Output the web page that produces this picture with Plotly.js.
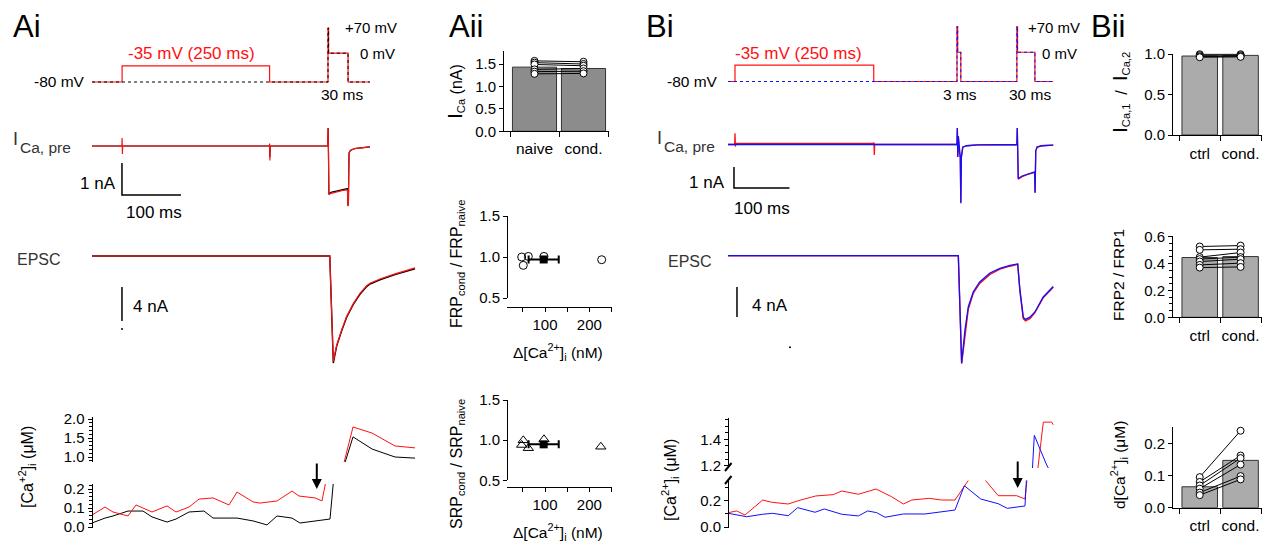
<!DOCTYPE html>
<html>
<head>
<meta charset="utf-8">
<script src="https://cdn.plot.ly/plotly-3.0.1.min.js"></script>
<style>html,body{margin:0;padding:0;background:#fff;overflow:hidden}</style>
</head>
<body>
<div id="fig" style="width:1269px;height:542px"></div>
<script>
// ================= DATA =================
// Ai – voltage protocol (time ms, mV)
const aiVt     = [0, 51, 51, 301, 301, 400, 400, 401, 401, 434, 434, 471];
const aiVcond  = [-80, -80, -35, -35, -80, -80, 70, 70, 0, 0, -80, -80];
const aiVnaive = [-80, -80, -80, -80, -80, -80, 70, 70, 0, 0, -80, -80];
// Ai – presynaptic Ca current (ms, nA)
const aiIt     = [0, 50.6, 51, 51.5, 52, 300.6, 301, 301.5, 302, 399.6, 400.2, 400.8, 401.5, 405, 415, 425, 433, 433.8, 434.6, 435.6, 438, 445, 458, 471];
const aiIcond  = [0, 0, 0.25, -0.25, 0, 0, 0.08, -0.45, 0, 0, 0.56, -0.2, -1.52, -1.48, -1.43, -1.39, -1.37, -1.88, -1.8, -0.22, -0.14, -0.08, -0.05, -0.03];
const aiInaive = [0, 0, 0, 0, 0, 0, 0.03, -0.35, 0, 0, 0.56, -0.2, -1.50, -1.45, -1.40, -1.35, -1.33, -1.86, -1.78, -0.22, -0.14, -0.08, -0.05, -0.03];
// Ai – EPSC (ms, nA)
const aiEt     = [0, 403, 409, 414.7, 423.2, 431.7, 442.9, 454.2, 465.6, 471.2, 488, 513.6, 547.5];
const aiEcond  = [0, 0, -12.4, -10.5, -8.7, -7.1, -5.6, -4.4, -3.5, -3.2, -2.7, -2.1, -1.4];
const aiEnaive = [0, 0, -12.6, -10.6, -8.8, -7.2, -5.7, -4.5, -3.6, -3.3, -2.8, -2.2, -1.5];
// Ai – [Ca2+]i (ms, µM)
const aiCaCondT  = [0, 22.0, 35.6, 61.0, 74.6, 101.7, 127.1, 142.4, 164.4, 181.4, 205.1, 232.2, 245.8, 272.9, 284.7, 313.6, 339.0, 350.8, 378.0, 389.8, 398.3, 427.1, 442.4, 474.6, 513.6, 547.5];
const aiCaCond   = [0.063, 0.105, 0.079, 0.058, 0.116, 0.079, 0.111, 0.079, 0.105, 0.147, 0.153, 0.116, 0.184, 0.132, 0.126, 0.137, 0.189, 0.163, 0.153, 0.137, 0.27, 0.85, 1.79, 1.63, 1.29, 1.24];
const aiCaNaiveT = [0, 22.0, 35.6, 61.0, 86.4, 101.7, 127.1, 142.4, 164.4, 189.8, 205.1, 245.8, 272.9, 296.6, 313.6, 339.0, 352.5, 378.0, 403.4, 411.9, 428.8, 442.4, 474.6, 513.6, 547.5];
const aiCaNaive  = [0.021, 0.047, 0.058, 0.084, 0.084, 0.053, 0.026, 0.042, 0.079, 0.084, 0.047, 0.047, 0.032, 0.011, 0.058, 0.047, 0.021, 0.032, 0.042, 0.33, 0.85, 1.53, 1.21, 1.0, 0.97];
const aiArrowT = 381;

// Aii – I_Ca bars (nA)
const aiiCats   = ['naive', 'cond.'];
const aiiBar    = [1.43, 1.40];
const aiiNaive  = [1.57, 1.53, 1.49, 1.38, 1.33, 1.28];
const aiiCond   = [1.55, 1.50, 1.46, 1.40, 1.34, 1.29];
// Aii – FRP / SRP ratios vs Δ[Ca2+]i (nM)
const frpCa    = [47.4, 62.4, 51, 97.7, 228];
const frpRatio = [1.00, 1.007, 0.898, 1.007, 0.967];
const frpMean  = {ca: 97, ratio: 0.97, sem: 34};
const srpCa    = [51, 47.4, 62.4, 97.7, 226];
const srpRatio = [0.998, 0.94, 0.90, 1.01, 0.918];
const srpMean  = {ca: 97, ratio: 0.948, sem: 34};

// Bi – voltage protocol
const biVt     = [0, 12.6, 12.6, 262.6, 262.6, 412.6, 412.6, 413.8, 413.8, 419.5, 419.5, 520.5, 520.5, 521.7, 521.7, 553, 553, 585.6];
const biVcond  = [-80, -80, -35, -35, -80, -80, 70, 70, 0, 0, -80, -80, 70, 70, 0, 0, -80, -80];
const biVnaive = [-80, -80, -80, -80, -80, -80, 70, 70, 0, 0, -80, -80, 70, 70, 0, 0, -80, -80];
// Bi – I_Ca
const biIcondT = [0, 12, 12.6, 13.3, 14, 262.5, 263, 263.6, 264.3, 412.6, 413.2, 414, 415, 416.5, 418.5, 419.5, 420.5, 423, 430, 450, 520.5, 521.2, 522, 523, 530, 540, 550, 552.5, 553.3, 554.5, 557, 565, 586];
const biIcond  = [0, 0, 0.54, -0.1, 0.05, 0.05, 0.1, -0.5, 0, 0, 0.78, -0.6, 0.4, -0.3, -0.6, -2.75, -0.6, -0.13, -0.06, -0.02, 0, 0.78, -0.4, -1.65, -1.53, -1.42, -1.35, -1.32, -2.3, -0.3, -0.12, -0.06, -0.03];
const biInaiveT = [0, 412.6, 413.2, 414, 415, 416.5, 418.5, 419.5, 420.5, 423, 430, 450, 520.5, 521.2, 522, 523, 530, 540, 550, 552.5, 553.3, 554.5, 557, 565, 586];
const biInaive  = [0, 0, 0.78, -0.6, 0.4, -0.3, -0.6, -2.8, -0.6, -0.13, -0.06, -0.02, 0, 0.78, -0.4, -1.62, -1.5, -1.4, -1.33, -1.3, -2.3, -0.3, -0.12, -0.06, -0.03];
// Bi – EPSC
const biEt     = [0, 415, 421, 427, 433, 442, 453.5, 472, 490, 508, 522, 526, 532, 536, 544, 553, 556, 568, 586];
const biEnaive = [0, 0, -14.3, -9.9, -6.8, -4.8, -3.5, -2.3, -1.7, -1.3, -1.1, -4.6, -8.2, -8.5, -8.2, -7.5, -7.1, -5.5, -4.1];
const biEcond  = [0, 0, -14.4, -10.3, -7.1, -5.0, -3.7, -2.5, -1.8, -1.4, -1.15, -4.7, -8.4, -8.7, -8.4, -7.6, -7.2, -5.6, -4.2];
// Bi – [Ca2+]i
const biCaCondT  = [0.5, 15.7, 30.6, 62.5, 78.7, 108.6, 126.7, 158.0, 189.7, 204.9, 234.8, 266.7, 294.9, 315.9, 331.0, 362.7, 385.0, 409.0, 446.8, 487.0, 520.2, 535.1, 558.6, 568.1, 583.2, 586.1];
const biCaCond   = [0.109, 0.122, 0.091, 0.205, 0.188, 0.175, 0.2, 0.236, 0.246, 0.274, 0.249, 0.289, 0.23, 0.175, 0.205, 0.218, 0.205, 0.205, 0.44, 0.238, 0.238, 0.213, 1.19, 1.53, 1.53, 1.51];
const biCaNaiveT = [0.5, 33.7, 62.5, 80.5, 108.6, 125.6, 156.8, 173.5, 204.9, 234.8, 251.7, 267.9, 282.9, 315.9, 355.0, 382.0, 409.0, 425.8, 455.3, 487.0, 503.2, 535.1, 551.9, 574.2, 580.2];
const biCaNaive  = [0.104, 0.078, 0.097, 0.104, 0.086, 0.147, 0.112, 0.137, 0.097, 0.084, 0.122, 0.109, 0.074, 0.099, 0.099, 0.112, 0.129, 0.314, 0.213, 0.177, 0.142, 0.16, 1.43, 1.205, 1.16];

// Bii – paired data
const biiCats     = ['ctrl', 'cond.'];
const biiIBar     = [0.975, 0.983];
const biiICtrl    = [0.997, 0.985, 0.97, 0.96];
const biiICond    = [0.997, 0.985, 0.972, 0.965];
const biiFrpBar   = [0.445, 0.452];
const biiFrpCtrl  = [0.527, 0.502, 0.448, 0.433, 0.415, 0.390, 0.370];
const biiFrpCond  = [0.534, 0.507, 0.482, 0.448, 0.433, 0.403, 0.375];
const biiCaBar    = [0.065, 0.147];
const biiCaCtrl   = [0.095, 0.080, 0.069, 0.059, 0.047, 0.039];
const biiCaCond   = [0.239, 0.162, 0.154, 0.134, 0.098, 0.088];

// scale bars (ms, nA) and stray sample dots below them
const sbAiI = {t: 50.8, i: -0.53, dt: 100, di: 1};
const sbAiE = {t: 50.8, i: -3.65, di: 4, dotT: 50.8, dotI: -8.6};
const sbBiI = {t: 10.8, i: -1.07, dt: 100, di: 1};
const sbBiE = {t: 16.2, i: -4.17, di: 4, dotT: 111.7, dotI: -12.2};

// ================= LAYOUT HELPERS =================
const W = 1269, H = 542;
const xd = (a, b) => [a / W, b / W];
const yd = (top, bot) => [1 - bot / H, 1 - top / H];
const lin = (p1, v1, p2, v2) => { const s = (v2 - v1) / (p2 - p1); return p => v1 + (p - p1) * s; };
const xr = (a, b, p1, v1, p2, v2) => { const f = lin(p1, v1, p2, v2); return [f(a), f(b)]; };
const yr = (top, bot, p1, v1, p2, v2) => { const f = lin(p1, v1, p2, v2); return [f(bot), f(top)]; };
const px = x => x / W, py = y => 1 - y / H;

const FONT = 'Liberation Sans, Arial, Helvetica, sans-serif';
const RED = '#ff1010', BLUE = '#1010ff';
const TICK = 15;
const hid = {visible: false, fixedrange: true, showgrid: false, zeroline: false};
const vis = {visible: true, fixedrange: true, showline: true, linecolor: '#000', linewidth: 1, ticks: 'outside', ticklen: 4, tickwidth: 1, tickcolor: '#000', showgrid: false, zeroline: false, tickfont: {family: FONT, size: TICK, color: '#000'}};
const minor = (dtick, len = 3) => ({tick0: 0, dtick, ticklen: len, ticks: 'outside', tickcolor: '#000', tickwidth: 1, showgrid: false});

function line(x, y, xa, ya, color, width = 1.2, dash = 'solid') {
  return {type: 'scatter', mode: 'lines', x, y, xaxis: xa, yaxis: ya, line: {color, width, dash}, hoverinfo: 'skip'};
}
function dot(x, y, xa, ya) {
  return {type: 'scatter', mode: 'markers', x: [x], y: [y], xaxis: xa, yaxis: ya, marker: {size: 2, color: '#000'}, hoverinfo: 'skip'};
}
function pairs(a, b, xa, ya) {
  return a.map((v, i) => ({type: 'scatter', mode: 'lines+markers', x: [0.5, 1.5], y: [v, b[i]], xaxis: xa, yaxis: ya, cliponaxis: false,
    line: {color: '#000', width: 1}, marker: {symbol: 'circle', size: 7, color: '#fff', line: {color: '#000', width: 1}}, hoverinfo: 'skip'}));
}
function bars(y, xa, ya, color, width) {
  return {type: 'bar', x: [0.5, 1.5], y, xaxis: xa, yaxis: ya, width, marker: {color, line: {color: '#333', width: 1}}, hoverinfo: 'skip'};
}

const traces = [
  // Ai voltage
  line(aiVt, aiVcond, 'x', 'y', RED, 1.2),
  line(aiVt, aiVnaive, 'x', 'y', '#000', 1, 'dot'),
  // Ai I_Ca
  line(aiIt, aiInaive, 'x', 'y2', '#000', 1.2),
  line(aiIt, aiIcond, 'x', 'y2', RED, 1.2),
  line([sbAiI.t, sbAiI.t, sbAiI.t + sbAiI.dt], [sbAiI.i, sbAiI.i - sbAiI.di, sbAiI.i - sbAiI.di], 'x', 'y2', '#000', 1.5),
  // Ai EPSC
  line(aiEt, aiEnaive, 'x', 'y3', '#000', 1.4),
  line(aiEt, aiEcond, 'x', 'y3', RED, 1.2),
  line([sbAiE.t, sbAiE.t], [sbAiE.i, sbAiE.i - sbAiE.di], 'x', 'y3', '#000', 1.5),
  dot(sbAiE.dotT, sbAiE.dotI, 'x', 'y3'),
  // Ai Ca (upper and lower segments of broken axis)
  line(aiCaNaiveT, aiCaNaive, 'x', 'y4', '#000', 1),
  line(aiCaCondT, aiCaCond, 'x', 'y4', RED, 1),
  line(aiCaNaiveT, aiCaNaive, 'x', 'y5', '#000', 1),
  line(aiCaCondT, aiCaCond, 'x', 'y5', RED, 1),
  // Aii bars
  bars(aiiBar, 'x2', 'y6', '#8c8c8c', 0.9),
  ...pairs(aiiNaive, aiiCond, 'x2', 'y6'),
  // Aii FRP
  {type: 'scatter', mode: 'markers', x: frpCa, y: frpRatio, xaxis: 'x3', yaxis: 'y7', cliponaxis: false,
   marker: {symbol: 'circle-open', size: 8, color: '#000', line: {width: 1}}, hoverinfo: 'skip'},
  {type: 'scatter', mode: 'markers', x: [frpMean.ca], y: [frpMean.ratio], xaxis: 'x3', yaxis: 'y7', cliponaxis: false,
   error_x: {type: 'data', array: [frpMean.sem], color: '#000', thickness: 2, width: 4},
   marker: {symbol: 'square', size: 8, color: '#000'}, hoverinfo: 'skip'},
  // Aii SRP
  {type: 'scatter', mode: 'markers', x: srpCa, y: srpRatio, xaxis: 'x4', yaxis: 'y8', cliponaxis: false,
   marker: {symbol: 'triangle-up-open', size: 9, color: '#000', line: {width: 1}}, hoverinfo: 'skip'},
  {type: 'scatter', mode: 'markers', x: [srpMean.ca], y: [srpMean.ratio], xaxis: 'x4', yaxis: 'y8', cliponaxis: false,
   error_x: {type: 'data', array: [srpMean.sem], color: '#000', thickness: 2, width: 4},
   marker: {symbol: 'square', size: 8, color: '#000'}, hoverinfo: 'skip'},
  // Bi voltage
  line(biVt, biVcond, 'x5', 'y9', RED, 1.2),
  line(biVt, biVnaive, 'x5', 'y9', BLUE, 1, 'dot'),
  // Bi I_Ca
  line(biIcondT, biIcond, 'x5', 'y10', RED, 1.3),
  line(biInaiveT, biInaive, 'x5', 'y10', BLUE, 1.3),
  line([sbBiI.t, sbBiI.t, sbBiI.t + sbBiI.dt], [sbBiI.i, sbBiI.i - sbBiI.di, sbBiI.i - sbBiI.di], 'x5', 'y10', '#000', 1.5),
  // Bi EPSC
  line(biEt, biEcond, 'x5', 'y11', RED, 1.4),
  line(biEt, biEnaive, 'x5', 'y11', BLUE, 1.3),
  line([sbBiE.t, sbBiE.t], [sbBiE.i, sbBiE.i - sbBiE.di], 'x5', 'y11', '#000', 1.5),
  dot(sbBiE.dotT, sbBiE.dotI, 'x5', 'y11'),
  // Bi Ca
  line(biCaCondT, biCaCond, 'x5', 'y12', RED, 1),
  line(biCaNaiveT, biCaNaive, 'x5', 'y12', BLUE, 1),
  line(biCaCondT, biCaCond, 'x5', 'y13', RED, 1),
  line(biCaNaiveT, biCaNaive, 'x5', 'y13', BLUE, 1),
  // Bii
  bars(biiIBar, 'x6', 'y14', '#ababab', 0.87),
  ...pairs(biiICtrl, biiICond, 'x6', 'y14'),
  bars(biiFrpBar, 'x7', 'y15', '#ababab', 0.87),
  ...pairs(biiFrpCtrl, biiFrpCond, 'x7', 'y15'),
  bars(biiCaBar, 'x8', 'y16', '#ababab', 0.87),
  ...pairs(biiCaCtrl, biiCaCond, 'x8', 'y16'),
];

const catX = (cats, anchor, extra = {}) => Object.assign({...vis, range: xr(1173, 1262, 1179.3, 0, 1261, 2), domain: xd(1173, 1262), anchor,
  tickvals: [0.5, 1.5], ticktext: cats, ticklen: 0, ticklabelstandoff: 4, tickfont: {family: FONT, size: 15.5, color: '#000'}, minor: minor(1, 5)}, extra);

const layout = {
  width: W, height: H, margin: {l: 0, r: 0, t: 0, b: 0, pad: 0}, paper_bgcolor: '#fff', plot_bgcolor: 'rgba(0,0,0,0)',
  showlegend: false, font: {family: FONT, color: '#000'},
  // Ai
  xaxis:  {...hid, domain: xd(92, 425), range: xr(92, 425, 92, 0, 151, 100), anchor: 'y'},
  yaxis:  {...hid, domain: yd(15, 95), range: yr(15, 95, 82, -80, 28, 70), anchor: 'x'},
  yaxis2: {...hid, domain: yd(110, 222), range: yr(110, 222, 146, 0, 178, -1), anchor: 'x'},
  yaxis3: {...hid, domain: yd(235, 380), range: yr(235, 380, 256, 0, 290, -4), anchor: 'x'},
  yaxis4: {...vis, domain: yd(417, 462), range: yr(417, 462, 457, 1, 419, 2), anchor: 'free', position: px(91.5),
           tickvals: [1, 1.5, 2], tickformat: '.1f', minor: minor(0.1)},
  yaxis5: {...vis, domain: yd(484, 528), range: yr(484, 528, 527, 0, 489, 0.2), anchor: 'free', position: px(91.5),
           tickvals: [0, 0.1, 0.2], tickformat: '.1f', minor: minor(0.02)},
  // Aii
  xaxis2: {...vis, domain: xd(504, 609), range: xr(504, 609, 510, 0, 608, 2), anchor: 'y6',
           tickvals: [0.5, 1.5], ticktext: aiiCats, ticklen: 0, ticklabelstandoff: 3, tickfont: {family: FONT, size: 15.5, color: '#000'}, minor: minor(1, 5)},
  yaxis6: {...vis, domain: yd(51, 131.3), range: yr(51, 131.3, 131.3, 0, 64, 1.5), anchor: 'x2', tickvals: [0, 0.5, 1, 1.5], tickformat: '.1f'},
  xaxis3: {...vis, domain: xd(507, 612), range: xr(507, 612, 545, 100, 589.3, 200), anchor: 'free', position: py(307),
           tickvals: [100, 200], minor: minor(50, 4)},
  yaxis7: {...vis, domain: yd(216, 298), range: yr(216, 298, 216, 1.5, 298, 0.5), anchor: 'free', position: px(507),
           tickvals: [0.5, 1, 1.5], tickformat: '.1f'},
  xaxis4: {...vis, domain: xd(507, 612), range: xr(507, 612, 545, 100, 589.3, 200), anchor: 'free', position: py(487),
           tickvals: [100, 200], minor: minor(50, 4)},
  yaxis8: {...vis, domain: yd(400, 480.3), range: yr(400, 480.3, 400, 1.5, 480.3, 0.5), anchor: 'free', position: px(507),
           tickvals: [0.5, 1, 1.5], tickformat: '.1f'},
  // Bi
  xaxis5:  {...hid, domain: xd(728, 1062), range: xr(728, 1062, 728, 0, 783.5, 100), anchor: 'y9'},
  yaxis9:  {...hid, domain: yd(15, 95), range: yr(15, 95, 81.5, -80, 26.7, 70), anchor: 'x5'},
  yaxis10: {...hid, domain: yd(110, 222), range: yr(110, 222, 144.5, 0, 165.5, -1), anchor: 'x5'},
  yaxis11: {...hid, domain: yd(235, 380), range: yr(235, 380, 255.7, 0, 285.7, -4), anchor: 'x5'},
  yaxis12: {...vis, domain: yd(418, 468), range: yr(418, 468, 465.7, 1.2, 439.3, 1.4), anchor: 'free', position: px(728),
            tickvals: [1.2, 1.4], tickformat: '.1f', minor: minor(0.05)},
  yaxis13: {...vis, domain: yd(480.5, 528), range: yr(480.5, 528, 527, 0, 500.7, 0.2), anchor: 'free', position: px(728),
            tickvals: [0, 0.2], tickformat: '.1f', minor: minor(0.1)},
  // Bii
  xaxis6: catX(biiCats, 'y14'),
  yaxis14: {...vis, domain: yd(53.5, 135), range: yr(53.5, 135, 135, 0, 54, 1), anchor: 'x6', tickvals: [0, 0.5, 1], tickformat: '.1f'},
  xaxis7: catX(biiCats, 'y15'),
  yaxis15: {...vis, domain: yd(236, 317.3), range: yr(236, 317.3, 317.3, 0, 236.7, 0.6), anchor: 'x7', tickvals: [0, 0.2, 0.4, 0.6], tickformat: '.1f', minor: minor(0.05)},
  xaxis8: catX(biiCats, 'y16'),
  yaxis16: {...vis, domain: yd(426.7, 507.7), range: yr(426.7, 507.7, 507.7, 0, 443.3, 0.2), anchor: 'x8', tickvals: [0, 0.1, 0.2], tickformat: '.1f'},
};

const A = (x, y, text, size = 15, extra = {}) => Object.assign({xref: 'paper', yref: 'paper', x: px(x), y: py(y), text, showarrow: false,
  xanchor: 'center', yanchor: 'middle', font: {family: FONT, size, color: extra.color || '#000'}}, extra);
const L = {xanchor: 'left'}, R = {xanchor: 'right'}, V = {textangle: -90};
const gray = '#333';

layout.annotations = [
  // panel letters
  A(11, 26, 'Ai', 31, L), A(447, 26, 'Aii', 31, L), A(644, 26, 'Bi', 31, L), A(1089, 26, 'Bii', 31, L),
  // Ai texts
  A(87, 82, '-80 mV', 15.5, R),
  A(191, 53, '-35 mV (250 ms)', 17, {color: RED}),
  A(343, 28, '+70 mV', 15, L), A(358, 53, '0 mV', 15, L), A(342, 95, '30 ms', 15.5),
  A(11, 139, 'I', 18, {xanchor: 'left', color: gray}), A(18, 147, 'Ca, pre', 15.5, {xanchor: 'left', color: gray}),
  A(118, 183, '1 nA', 17, R), A(154, 212, '100 ms', 17),
  A(15, 260, 'EPSC', 16, {xanchor: 'left', color: gray}),
  A(131, 306, '4 nA', 17, L),
  A(27, 467, '[Ca<sup>+2</sup>]<sub>i</sub> (μM)', 16, V),
  // Aii texts
  A(455, 92, '<span style="font-size:21px">I</span><sub>Ca</sub> (nA)', 16, V),
  A(457, 264, 'FRP<sub>cond</sub> / FRP<sub>naive</sub>', 16, V),
  A(558, 352, 'Δ[Ca<sup>2+</sup>]<sub>i</sub> (nM)', 15.5),
  A(457, 464, 'SRP<sub>cond</sub> / SRP<sub>naive</sub>', 16, V),
  A(558, 532, 'Δ[Ca<sup>2+</sup>]<sub>i</sub> (nM)', 15.5),
  // Bi texts
  A(720, 82, '-80 mV', 15.5, R),
  A(798, 53, '-35 mV (250 ms)', 17, {color: RED}),
  A(1026, 28, '+70 mV', 15, L), A(1040, 54, '0 mV', 15, L),
  A(960, 95, '3 ms', 15.5), A(1030, 95, '30 ms', 15.5),
  A(655, 138, 'I', 18, {xanchor: 'left', color: gray}), A(662, 146, 'Ca, pre', 15.5, {xanchor: 'left', color: gray}),
  A(727, 182, '1 nA', 17, R), A(762, 208, '100 ms', 17),
  A(666, 261, 'EPSC', 16, {xanchor: 'left', color: gray}),
  A(750, 305, '4 nA', 17, L),
  A(670, 480, '[Ca<sup>2+</sup>]<sub>i</sub> (μM)', 16, V),
  // Bii texts
  A(1120, 93, '<span style="font-size:21px">I</span><sub>Ca,1</sub>  /  <span style="font-size:21px">I</span><sub>Ca,2</sub>', 16, V),
  A(1118, 275, 'FRP2 / FRP1', 15.5, V),
  A(1119, 465, 'd[Ca<sup>2+</sup>]<sub>i</sub> (μM)', 15.5, V),
  // arrows
  {xref: 'x', yref: 'paper', x: aiArrowT, y: py(489), ax: 0, ay: -27, showarrow: true, arrowhead: 2, arrowsize: 1, arrowwidth: 2, arrowcolor: '#000', text: ''},
  {xref: 'paper', yref: 'paper', x: px(1017.7), y: py(488), ax: 0, ay: -28, showarrow: true, arrowhead: 2, arrowsize: 1, arrowwidth: 2, arrowcolor: '#000', text: ''},
];

layout.shapes = [
  {type: 'line', xref: 'paper', yref: 'paper', x0: px(725), y0: py(471), x1: px(731.5), y1: py(463), line: {color: '#000', width: 2}},
  {type: 'line', xref: 'paper', yref: 'paper', x0: px(725), y0: py(484), x1: px(731.5), y1: py(476), line: {color: '#000', width: 2}},
];

Plotly.newPlot('fig', traces, layout, {staticPlot: true, displayModeBar: false});
</script>
</body>
</html>
